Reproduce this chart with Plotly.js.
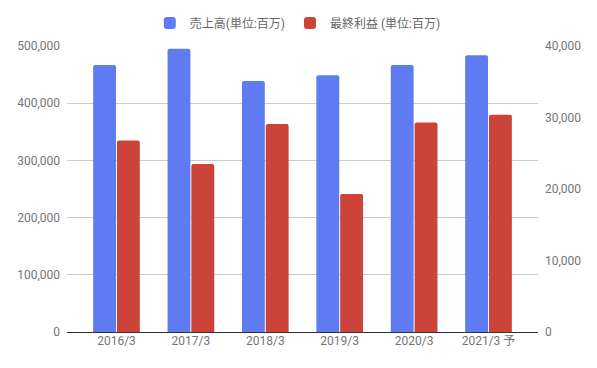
<!DOCTYPE html>
<html>
<head>
<meta charset="utf-8">
<script src="https://cdn.plot.ly/plotly-3.0.1.min.js"></script>
<style>html,body{margin:0;padding:0;background:#fff;}#chart{width:597px;height:368px;}</style>
</head>
<body>
<div id="chart"></div>
<script>
const categories = ["2016/3", "2017/3", "2018/3", "2019/3", "2020/3", "2021/3 予"];
const salesName = "売上高(単位:百万)";
const profitName = "最終利益 (単位:百万)";
const sales = [467000, 495000, 439000, 449000, 467000, 484000];
const profit = [26800, 23500, 29100, 19300, 29300, 30400];
const leftTicks = [0, 100000, 200000, 300000, 400000, 500000];
const rightTicks = [0, 10000, 20000, 30000, 40000];

const fontFamily = "Roboto, 'Noto Sans CJK JP', sans-serif";
const data = [
  {type: "bar", x: categories, y: sales, name: salesName, yaxis: "y", offsetgroup: "1",
   marker: {color: "#5f7bf2"}, hoverinfo: "none"},
  {type: "bar", x: categories, y: profit, name: profitName, yaxis: "y2", offsetgroup: "2",
   marker: {color: "#cc4339"}, hoverinfo: "none"}
];
const layout = {
  width: 597, height: 368,
  margin: {l: 67, r: 59, t: 46, b: 36},
  paper_bgcolor: "#fff", plot_bgcolor: "#fff",
  font: {family: fontFamily, size: 12, color: "#757575"},
  barmode: "group", bargap: 0.36, bargroupgap: 0.04, barcornerradius: 2,
  showlegend: true,
  legend: {orientation: "h", x: 0.49, xanchor: "center", y: 0.9375, yanchor: "middle",
           yref: "container", font: {size: 12, color: "#666666"}, traceorder: "normal"},
  xaxis: {type: "category", range: [-0.665, 5.665], showgrid: false, zeroline: false,
          showline: false, ticks: "", tickfont: {size: 12, color: "#757575"}, automargin: false},
  yaxis: {range: [0, 500000], tickvals: leftTicks, tickformat: ",", showgrid: true, gridcolor: "#cccccc",
          zeroline: true, zerolinecolor: "#333333", zerolinewidth: 1, showline: false, ticks: "",
          ticklabelstandoff: 6, tickfont: {size: 12, color: "#757575"}, automargin: false, fixedrange: true},
  yaxis2: {range: [0, 40000], tickvals: rightTicks, tickformat: ",", overlaying: "y", side: "right",
           showgrid: false, zeroline: false, showline: false, ticks: "", ticklabelstandoff: 6,
           tickfont: {size: 12, color: "#757575"}, automargin: false, fixedrange: true}
};
Plotly.newPlot("chart", data, layout, {staticPlot: true, displayModeBar: false});
</script>
</body>
</html>
